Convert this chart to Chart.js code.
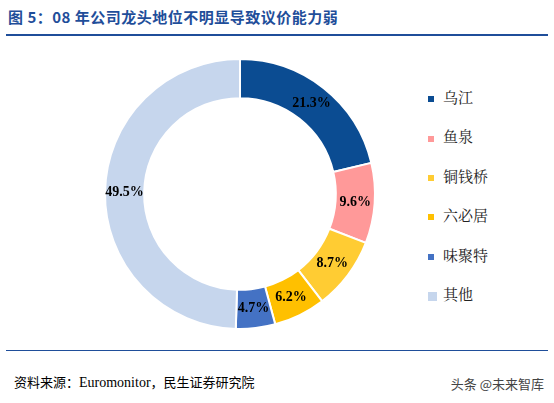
<!DOCTYPE html>
<html><head><meta charset="utf-8">
<script src="https://cdn.jsdelivr.net/npm/chart.js@4"></script>
<style>
body{margin:0;width:554px;height:403px;background:#fff;position:relative;overflow:hidden;font-family:"Noto Sans CJK SC",serif}
#title{position:absolute;left:8px;top:6px;font-size:15px;font-weight:bold;color:#1f4e9a;letter-spacing:0.5px}
#tl{position:absolute;left:6px;right:6px;top:34px;border-top:2px solid #1f4e9a}
#bl{position:absolute;left:6px;right:6px;top:350px;border-top:1px solid #1f4e9a}
#src{position:absolute;left:14px;top:372px;font-size:13px;color:#000}
#src .en{font-family:"Liberation Serif";font-size:14px}
#wm{position:absolute;right:10px;top:374px;font-size:13px;color:#444}
#wrap{position:absolute;left:0;top:40px;width:410px;height:305px}
#leg{position:absolute;left:428px;top:84px;font-family:"Noto Serif CJK SC","Noto Sans CJK SC";font-size:15px;color:#222}
#leg div{height:39.4px;line-height:26px}
#leg span{display:inline-block;width:6px;height:6px;margin-right:9px;vertical-align:middle}
</style></head><body>
<div id="title">图 5：08 年公司龙头地位不明显导致议价能力弱</div>
<div id="tl"></div>
<div id="wrap"><canvas id="c" width="410" height="305"></canvas></div>
<div id="leg"></div>
<div id="bl"></div>
<div id="src">资料来源：<span class="en">Euromonitor</span>，民生证券研究院</div>
<div id="wm">头条 @未来智库</div>
<script>
"use strict";
const labels = ['乌江', '鱼泉', '铜钱桥', '六必居', '味聚特', '其他'];
const shares = [21.3, 9.6, 8.7, 6.2, 4.7, 49.5];
const colors = ['#0b4c92', '#ff9999', '#ffcc33', '#ffc000', '#4472c4', '#c6d6ed'];

// 凡例（HTML）
const leg = document.getElementById('leg');
labels.forEach((l, i) => {
  const d = document.createElement('div');
  d.innerHTML = '<span style="background:' + colors[i] + (i == 5 ? ';width:9px;height:9px;margin-right:6px' : '') + '"></span>' + l;
  leg.appendChild(d);
});

// スライス内のパーセント表示
const pctLabels = {
  id: 'pctLabels',
  afterDatasetsDraw(chart) {
    const ctx = chart.ctx;
    ctx.save();
    ctx.font = 'bold 14px "Liberation Serif"';
    ctx.fillStyle = '#000';
    ctx.textAlign = 'center'; ctx.textBaseline = 'middle';
    chart.getDatasetMeta(0).data.forEach((arc, i) => {
      const p = arc.tooltipPosition();
      ctx.fillText(shares[i].toFixed(1) + '%', p.x, p.y);
    });
    ctx.restore();
  }
};

new Chart(document.getElementById('c'), {
  type: 'doughnut',
  data: { labels: labels, datasets: [{ data: shares, backgroundColor: colors, borderColor: '#fff', borderWidth: 2 }] },
  options: {
    responsive: false, animation: false, cutout: '71%',
    layout: { padding: { left: 104, right: 34, top: 18, bottom: 15 } },
    plugins: { legend: { display: false }, tooltip: { enabled: false } }
  },
  plugins: [pctLabels]
});
</script>
</body></html>
